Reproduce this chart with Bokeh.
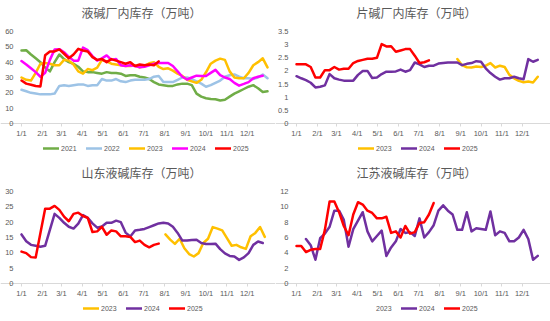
from bokeh.plotting import figure
from bokeh.layouts import gridplot
from bokeh.models import Range1d, FixedTicker, Legend, LegendItem
from bokeh.embed import file_html
from bokeh.resources import INLINE

# ---------------- data ----------------
month_days = [0, 31, 59, 90, 120, 151, 181, 212, 243, 273, 304, 334]
month_labels = ["1/1", "2/1", "3/1", "4/1", "5/1", "6/1", "7/1", "8/1", "9/1", "10/1", "11/1", "12/1"]

# panel 1: 液碱厂内库存 (weekly, starting week 0)
lq_2021 = [47.6, 47.8, 45, 42.5, 40, 36.5, 34, 40, 45, 42, 40, 39, 37, 34, 33.5, 33.5, 33, 32.5, 33.5, 33,
           33, 32.5, 31, 31.5, 31.5, 30.5, 30, 29, 27, 25.5, 25, 24.5, 24.5, 25.5, 26, 26, 25, 19.5, 17.5, 16.5,
           16, 15.8, 15, 15.5, 17.5, 19.5, 21, 22.5, 24, 25, 23, 20.5, 21]
lq_2022 = [22, 21, 20, 19.5, 19, 19, 19, 19.5, 24.5, 25, 24.5, 25, 25.5, 25.5, 24.5, 25, 25, 29, 28, 28,
           29, 27.5, 27, 28, 28.5, 28.5, 28.5, 29, 30.5, 31, 27, 27, 27, 28.5, 30, 30, 29, 27.5, 26, 24,
           25, 26.5, 28, 30.5, 31.5, 32, 30.5, 29.5, 29.5, 29, 30, 32, 29.5]
lq_2023 = [30, 28.5, 28, 33, 39, 39.5, 39, 38, 38, 41.5, 41, 38.5, 34, 32.5, 35.5, 34.8, 36.5, 41.5, 40.5, 39,
           38.5, 38, 37.5, 37.5, 37.8, 36.6, 37.5, 39.3, 40, 37, 35.5, 36, 34.5, 32.5, 31, 28.5, 27.5, 26.5, 28.5, 33.4,
           39, 41, 42.3, 41.5, 34, 30, 29.5, 29.5, 33, 38, 40, 42.5, 36.6]
lq_2024 = [40.7, 38.5, 36, 33.5, 30.5, 33, 41.5, 48.3, 48.5, 46.5, 43.5, 41, 41, 49.5, 47.8, 44, 41, 42.5, 44.4, 41.5,
           42, 38, 37.5, 38, 37.5, 36.6, 37, 38, 39, 39.5, 39.5, 39.5, 37.5, 34, 30.5, 28.7, 30, 31.2, 31, 31,
           33, 35, 31.5, 30, 29, 26.5, 24.7, 25.8, 27, 29.5, 30.5, 31.2]
lq_2025 = [28, 26, 25.3, 24.5, 24.2, 44.5, 47, 47, 48.3, 45.5, 42.5, 45, 48.7, 47.6, 47, 43.3, 41.5, 42, 40, 42,
           41, 40, 39, 40, 37.5, 38.5, 38, 38.5, 38, 40.5]

# panel 2: 片碱厂内库存
pj_2023_start = 34
pj_2023 = [2.45, 2.22, 2.14, 2.13, 2.17, 2.15, 2.2, 2.3, 2.13, 2.2, 2.15, 1.85, 1.72, 1.62, 1.57, 1.6, 1.56, 1.78]
pj_2024 = [1.8, 1.72, 1.65, 1.55, 1.37, 1.4, 1.45, 1.88, 1.72, 1.67, 1.63, 1.63, 1.63, 1.85, 2.0, 2.0, 1.73, 1.75,
           1.88, 1.97, 1.97, 1.98, 2.05, 1.97, 2.03, 2.32, 2.25, 2.15, 2.2, 2.2, 2.28, 2.3, 2.32, 2.32, 2.32, 2.22,
           2.27, 2.3, 2.37, 2.35, 2.1, 1.92, 1.78, 1.67, 1.72, 1.72, 1.78, 1.72, 1.68, 2.45, 2.35, 2.42]
pj_2025 = [2.25, 2.25, 2.25, 2.15, 1.75, 1.75, 2.03, 2.03, 2.15, 2.05, 2.08, 2.08, 2.3, 2.38, 2.42, 2.46, 2.46,
           2.5, 3.02, 2.93, 2.94, 2.73, 2.78, 2.83, 2.83, 2.58, 2.3, 2.33, 2.4]

# panel 3: 山东液碱库存
sd_2023_start_day = 213
sd_2023 = [16, 14.3, 12.9, 14.6, 11.5, 9.6, 8.8, 9.9, 13.2, 14.6, 18.4, 17.9, 17.3, 14.8, 12.3, 12.6, 11.8, 11.3,
           15.4, 16.5, 18.4, 15.2]
sd_2024 = [16, 13.8, 12.6, 12.3, 12, 12.3, 17.5, 22.7, 21.4, 19.8, 18.5, 17.9, 19.5, 22.3, 21.4, 19.6, 18.2, 18.6,
           19.8, 19.8, 20.5, 20, 16.6, 15.3, 17.3, 17.5, 17.8, 18.4, 19, 19.6, 19.8, 19.6, 18.5, 16.5, 14, 14,
           14.2, 14.3, 13.2, 12.9, 12.9, 13, 11.2, 9.8, 9, 8.8, 7.7, 8.5, 9.9, 12.6, 13.7, 13.2]
sd_2025 = [10.4, 9.9, 8.6, 8.5, 16.5, 24.4, 24.4, 25.3, 24, 21.8, 20.3, 22.7, 23.1, 22, 21.4, 16.8, 17, 18.5, 15.9,
           17.3, 17, 15.4, 15.4, 15.2, 13.5, 14, 12.6, 11.8, 12.6, 13]

# panel 4: 江苏液碱库存
js_2023 = []
js_2024_start = 2
js_2024 = [5.8, 5.0, 3.1, 5.9, 6.5, 7.4, 9.5, 9.5, 8.3, 4.8, 7.1, 8.2, 9.3, 6.8, 5.5, 6.2, 6.9, 3.6, 4.7, 5.5,
           7.1, 6.6, 6.7, 6.2, 8.5, 6, 6.7, 7.6, 9.5, 10.2, 9.5, 9, 7, 7, 9.3, 6.8, 7.2, 7.1, 7.0, 9.4,
           6.3, 6.8, 6.6, 5.5, 5.5, 6, 7, 5.8, 3.1, 3.6]
js_2025 = [4.9, 4.9, 4.1, 4.4, 4.5, 4.5, 7.0, 10.7, 10.7, 9.3, 7.5, 6.3, 9, 10.6, 10.3, 9.5, 9.2, 8.5, 8.5, 8.7,
           6.6, 6.8, 6.0, 7.5, 6.5, 6.7, 7.9, 8.0, 9.0, 10.5]

C2021, C2022, C2023, C2024M, C2025, C2024P = "#70AD47", "#9DC3E6", "#FFC000", "#FF00FF", "#FF0000", "#7030A0"
TXT = "#595959"
LW = 2.5
W = 275
FRAME_TOP = 21  # frame top (px)
YMAX_Y = 31     # pixel row of the top tick
ZERO_Y = 123    # pixel row of value 0
LEFT_PX = 21    # pixel column of day 0
PLOT_W = 246    # pixels spanning days 0..364
DAYS = 364


def days_from_week(vals, start_week=0):
    return [7 * (start_week + i) for i in range(len(vals))]


def days_from_day(vals, start_day):
    return [start_day + 7 * i for i in range(len(vals))]


def make_fig(title, ymax, yticks, ylabels, height, series, legend_x):
    upp = ymax / (ZERO_Y - YMAX_Y)
    ymin = -(height - ZERO_Y) * upp
    ytop = ymax + (YMAX_Y - FRAME_TOP) * upp
    dpp = DAYS / PLOT_W
    xmin = -LEFT_PX * dpp
    xmax = DAYS + (W - LEFT_PX - PLOT_W) * dpp
    p = figure(width=W, height=height, output_backend="svg", toolbar_location=None,
               x_range=Range1d(xmin, xmax), y_range=Range1d(ymin, ytop),
               min_border_left=0, min_border_right=0, min_border_top=FRAME_TOP,
               min_border_bottom=0)
    p.outline_line_color = None
    p.grid.visible = False
    p.title.text = title
    p.title.text_font = "Noto Sans CJK SC"
    p.title.text_font_size = "12px"
    p.title.text_font_style = "normal"
    p.title.text_color = TXT
    p.title.align = "left"
    p.title.offset = 81
    p.title.standoff = 2

    p.xaxis.fixed_location = 0
    p.xaxis.ticker = FixedTicker(ticks=month_days)
    p.xaxis.major_label_overrides = dict(zip(month_days, month_labels))
    p.xaxis.axis_line_color = "#D9D9D9"
    p.xaxis.major_tick_line_color = "#D9D9D9"
    p.xaxis.major_tick_in = 0
    p.xaxis.major_tick_out = 3
    p.xaxis.minor_tick_line_color = None
    p.xaxis.major_label_standoff = 2
    p.xaxis.major_label_text_font_size = "7.5px"
    p.xaxis.major_label_text_color = TXT
    p.xaxis.major_label_text_font = "Liberation Sans"

    p.yaxis.fixed_location = 0
    p.yaxis.ticker = FixedTicker(ticks=yticks)
    p.yaxis.major_label_overrides = dict(zip(yticks, ylabels))
    p.yaxis.axis_line_color = None
    p.yaxis.major_tick_line_color = None
    p.yaxis.minor_tick_line_color = None
    p.yaxis.major_tick_in = 0
    p.yaxis.major_tick_out = 0
    p.yaxis.major_label_standoff = 8
    p.yaxis.major_label_text_font_size = "7.5px"
    p.yaxis.major_label_text_color = TXT
    p.yaxis.major_label_text_font = "Liberation Sans"

    items = []
    for label, xs, ys, color in series:
        r = p.line(xs, ys, line_color=color, line_width=LW, line_join="round", line_cap="round")
        items.append(LegendItem(label=label, renderers=[r]))
    leg = Legend(items=items, orientation="horizontal", location=(legend_x, height - 153),
                 glyph_width=16, glyph_height=10, label_height=10, label_standoff=2, spacing=5,
                 padding=0, margin=0, border_line_color=None, background_fill_alpha=0,
                 label_text_font_size="7px", label_text_color=TXT, label_text_font="Liberation Sans")
    p.add_layout(leg, "center")
    return p


p1 = make_fig("液碱厂内库存（万吨）", 60, [0, 10, 20, 30, 40, 50, 60],
              ["0", "10", "20", "30", "40", "50", "60"], 160,
              [("2021", days_from_week(lq_2021), lq_2021, C2021),
               ("2022", days_from_week(lq_2022), lq_2022, C2022),
               ("2023", days_from_week(lq_2023), lq_2023, C2023),
               ("2024", days_from_week(lq_2024), lq_2024, C2024M),
               ("2025", days_from_week(lq_2025), lq_2025, C2025)], 43)

p2 = make_fig("片碱厂内库存（万吨）", 3.5, [0, 0.5, 1, 1.5, 2, 2.5, 3, 3.5],
              ["0", "0.5", "1", "1.5", "2", "2.5", "3", "3.5"], 160,
              [("2023", days_from_week(pj_2023, pj_2023_start), pj_2023, C2023),
               ("2024", days_from_week(pj_2024), pj_2024, C2024P),
               ("2025", days_from_week(pj_2025), pj_2025, C2025)], 83)

p3 = make_fig("山东液碱库存（万吨）", 30, [0, 5, 10, 15, 20, 25, 30],
              ["0", "5", "10", "15", "20", "25", "30"], 161,
              [("2023", days_from_day(sd_2023, sd_2023_start_day), sd_2023, C2023),
               ("2024", days_from_week(sd_2024), sd_2024, C2024P),
               ("2025", days_from_week(sd_2025), sd_2025, C2025)], 83)

p4 = make_fig("江苏液碱库存（万吨）", 12, [0, 2, 4, 6, 8, 10, 12],
              ["0", "2", "4", "6", "8", "10", "12"], 161,
              [("2023", js_2023, js_2023, C2023),
               ("2024", days_from_week(js_2024, js_2024_start), js_2024, C2024P),
               ("2025", days_from_week(js_2025), js_2025, C2025)], 83)

grid = gridplot([[p1, p2], [p3, p4]], toolbar_location=None)

open("out.html", "w").write(file_html(grid, INLINE))
